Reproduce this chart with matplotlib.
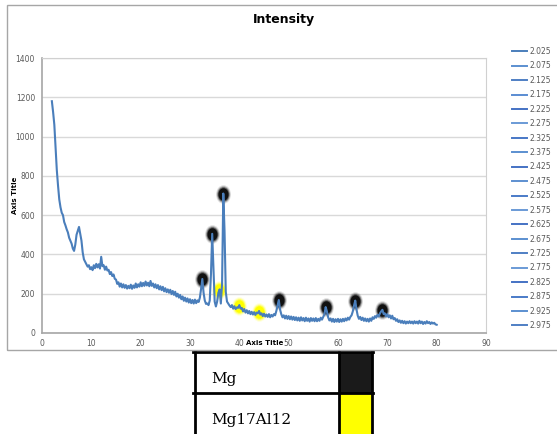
import matplotlib
matplotlib.use('Agg')
import matplotlib.pyplot as plt
import numpy as np
from matplotlib.patches import Rectangle
from matplotlib.path import Path
from matplotlib.transforms import Affine2D

# XRD pattern: 2-theta from 2 to 80 deg in 0.25 deg steps
two_theta = np.arange(2.0, 80.01, 0.25)
intensity = [
    1180, 1125, 1060, 940,   # 2
    830, 750, 680, 640,      # 3
    612, 600, 565, 548,      # 4
    528, 512, 485, 470,      # 5
    455, 430, 418, 450,      # 6
    500, 520, 540, 505,      # 7
    470, 410, 375, 362,      # 8
    350, 338, 345, 325,      # 9
    335, 320, 345, 330,      # 10
    352, 334, 350, 328,      # 11
    388, 340, 345, 322,      # 12
    338, 318, 322, 300,      # 13
    310, 290, 298, 276,      # 14
    272, 250, 258, 236,      # 15
    252, 232, 248, 230,      # 16
    244, 226, 240, 228,      # 17
    246, 225, 242, 230,      # 18
    252, 232, 248, 236,      # 19
    258, 238, 255, 240,      # 20
    262, 242, 256, 238,      # 21
    265, 240, 252, 232,      # 22
    248, 228, 244, 222,      # 23
    238, 218, 235, 212,      # 24
    228, 208, 222, 205,      # 25
    220, 198, 214, 194,      # 26
    210, 186, 200, 180,      # 27
    194, 172, 186, 164,      # 28
    180, 160, 176, 155,      # 29
    172, 152, 168, 150,      # 30
    170, 152, 166, 158,      # 31
    180, 225, 275, 205,      # 32
    165, 148, 150, 142,      # 33
    165, 300, 505, 330,      # 34
    160, 135, 160, 205,      # 35
    222, 150, 250, 710,      # 36
    520, 210, 160, 150,      # 37
    140, 132, 142, 124,      # 38
    136, 122, 130, 128,      # 39
    142, 124, 128, 110,      # 40
    122, 104, 116, 100,      # 41
    112, 96, 108, 94,        # 42
    106, 92, 104, 100,       # 43
    112, 94, 100, 86,        # 44
    98, 84, 94, 82,          # 45
    96, 80, 92, 84,          # 46
    96, 90, 112, 140,        # 47
    168, 120, 96, 80,        # 48
    90, 74, 88, 72,          # 49
    86, 70, 84, 68,          # 50
    82, 66, 80, 64,          # 51
    78, 62, 80, 64,          # 52
    76, 60, 78, 62,          # 53
    74, 58, 76, 62,          # 54
    74, 60, 76, 60,          # 55
    72, 62, 78, 68,          # 56
    82, 95, 132, 110,        # 57
    80, 64, 74, 58,          # 58
    72, 56, 70, 58,          # 59
    72, 56, 70, 58,          # 60
    72, 60, 74, 64,          # 61
    78, 68, 82, 90,          # 62
    110, 140, 165, 120,      # 63
    88, 72, 82, 66,          # 64
    78, 62, 74, 60,          # 65
    72, 58, 74, 62,          # 66
    80, 72, 86, 78,          # 67
    92, 84, 100, 110,        # 68
    118, 96, 100, 84,        # 69
    96, 80, 90, 74,          # 70
    88, 70, 76, 62,          # 71
    70, 56, 64, 52,          # 72
    62, 50, 60, 48,          # 73
    58, 50, 60, 50,          # 74
    58, 48, 60, 50,          # 75
    58, 48, 62, 50,          # 76
    58, 46, 56, 48,          # 77
    60, 50, 56, 46,          # 78
    54, 48, 52, 44,          # 79
    42,                      # 80
]

# peak markers
mg_x = [32.5, 34.5, 36.75, 48.0, 57.5, 63.5, 69.0]
mg_y = [275, 505, 710, 168, 132, 165, 118]
al_x = [35.95, 40.0, 44.0]
al_y = [220, 138, 108]

legend_labels = ['2.025', '2.075', '2.125', '2.175', '2.225', '2.275', '2.325',
                 '2.375', '2.425', '2.475', '2.525', '2.575', '2.625', '2.675',
                 '2.725', '2.775', '2.825', '2.875', '2.925', '2.975']
legend_colors = ['#4472c4', '#5b8fd0', '#4f7fc4', '#5a8cd2', '#4472c4',
                 '#6a9ad6', '#4877c6', '#5b8fd0', '#4472c4', '#5d8fd0',
                 '#4a7bc8', '#6a9ad6', '#4472c4', '#5b8fd0', '#4f7fc4',
                 '#6a9ad6', '#4472c4', '#4a7bc8', '#5b8fd0', '#4f7fc4']

phases = ['Mg', 'Mg17Al12']
phase_colors = ['#1a1a1a', '#ffff00']

W, H = 557, 434


def fx(x):
    return x / W


def fy(y):
    return 1 - y / H


fig = plt.figure(figsize=(5.57, 4.34), dpi=100)

# chart frame
fig.patches.append(Rectangle((fx(7), fy(350)), fx(561) - fx(7), fy(5) - fy(350),
                             transform=fig.transFigure, fill=False,
                             edgecolor='#a6a6a6', lw=1))

ax = fig.add_axes([fx(42), fy(333), fx(486) - fx(42), fy(58) - fy(333)])
line, = ax.plot(two_theta, intensity, color='#4a7ebb', lw=1.5, zorder=3,
                label=legend_labels[0])

# blurred blobs at peaks
ell = Path.unit_circle().transformed(Affine2D().scale(0.8, 1.0))
for ms, a in [(13.5, 0.12), (12, 0.25), (10.5, 0.5), (9, 1.0)]:
    ax.plot(mg_x, mg_y, ls='none', marker=ell, ms=ms, color='#111111',
            mec='none', alpha=a, zorder=2)
    ax.plot(al_x, al_y, ls='none', marker=ell, ms=ms, color='#ffff00',
            mec='none', alpha=a, zorder=2)

ax.set_xlim(0, 90)
ax.set_ylim(0, 1400)
ax.set_xticks(range(0, 91, 10))
ax.set_yticks(range(0, 1401, 200))
ax.yaxis.grid(True, color='#d9d9d9', lw=1)
ax.set_axisbelow(True)
for s in ['top', 'right']:
    ax.spines[s].set_color('#d0d0d0')
for s in ['left', 'bottom']:
    ax.spines[s].set_color('#a6a6a6')
    ax.spines[s].set_linewidth(1.2)
ax.tick_params(length=0, labelsize=5.5, labelcolor='#595959')
ax.tick_params(axis='y', pad=5)
ax.tick_params(axis='x', pad=4)

ax.set_xlabel('Axis Title', fontsize=5, fontweight='bold')
ax.xaxis.set_label_coords((265 - 42) / 444, (333 - 343) / 275)
ax.xaxis.label.set_va('center')
ax.set_ylabel('Axis Title', fontsize=5, fontweight='bold')
ax.yaxis.set_label_coords((15 - 42) / 444, 0.5)
ax.yaxis.label.set_va('center')

fig.text(fx(284), fy(20), 'Intensity', ha='center', va='center',
         fontsize=9, fontweight='bold')

# legend (one entry per series)
handles = [line] + [ax.plot([], [], color=c, lw=1.4, label=l)[0]
                    for c, l in zip(legend_colors[1:], legend_labels[1:])]
leg = fig.legend(handles, legend_labels, loc='upper left',
                 bbox_to_anchor=(fx(512), fy(47)), frameon=False, fontsize=5.5,
                 handlelength=2.0, handletextpad=0.3, labelspacing=0.71,
                 borderpad=0, borderaxespad=0)
for t in leg.get_texts():
    t.set_color('#595959')
for h in leg.legend_handles:
    h.set_linewidth(1.4)

# phase key table under the chart
tax = fig.add_axes([0, 0, 1, 1])
tax.set_xlim(0, W)
tax.set_ylim(H, 0)
tax.axis('off')
row_top = [352, 393.3]
for i, (name, col) in enumerate(zip(phases, phase_colors)):
    tax.add_patch(Rectangle((338.7, row_top[i]), 372 - 338.7, 60, facecolor=col,
                            edgecolor='none'))
    tax.text(211, row_top[i] + 27, name, fontsize=11, family='DejaVu Serif',
             va='center', ha='left')
for xv in [194.7, 338.7, 372]:
    tax.plot([xv, xv], [350.7, 440], color='black', lw=2)
for yv in row_top:
    tax.plot([193.3, 373.3], [yv, yv], color='black', lw=2)

fig.savefig('out.png', dpi=100)
